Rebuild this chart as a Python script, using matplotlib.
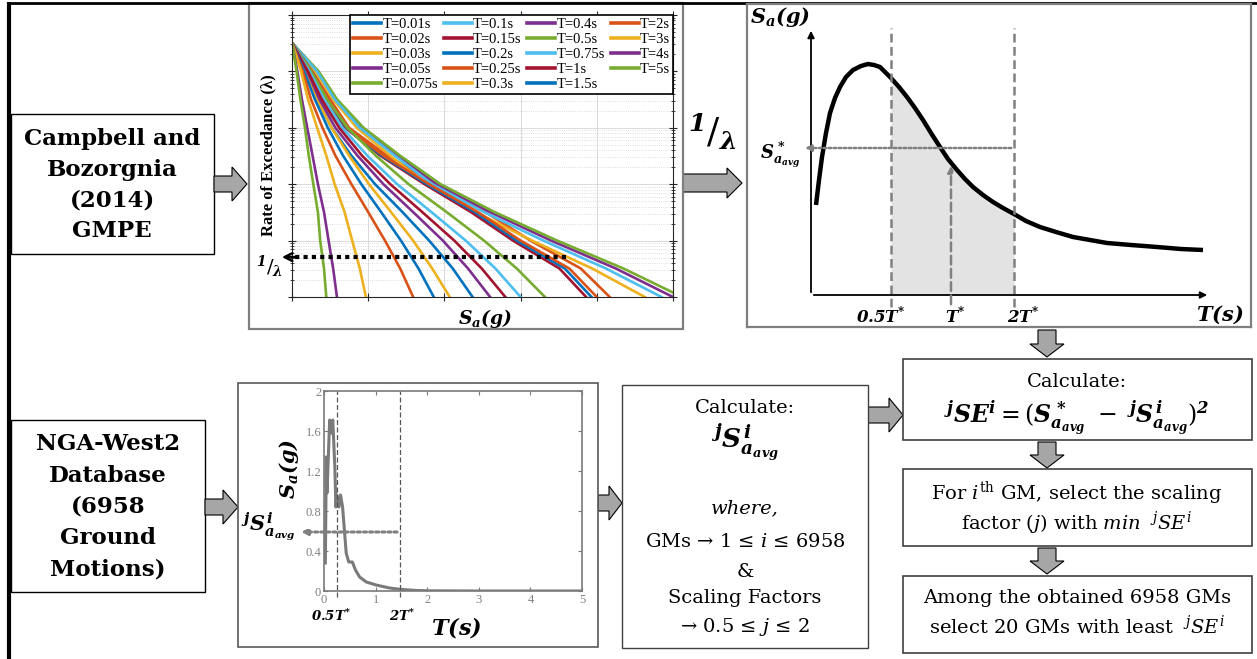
import numpy as np
import matplotlib
matplotlib.use("Agg")
import matplotlib.pyplot as plt
from matplotlib.patches import Rectangle, Polygon

W, H = 1257, 659

plt.rcParams['mathtext.fontset'] = 'custom'
plt.rcParams['mathtext.rm'] = 'DejaVu Serif'
plt.rcParams['mathtext.it'] = 'DejaVu Serif:italic'
plt.rcParams['mathtext.bf'] = 'DejaVu Serif:italic:bold'

# ---- hazard curves (Campbell & Bozorgnia 2014), Sa read at fixed exceedance rates ----
RATE = [3.2e-1, 1e-1, 3.2e-2, 1e-2, 3.2e-3, 1e-3, 3.2e-4, 1e-4, 3.2e-5, 1e-5]
PERIOD_LABELS = ['T=0.01s', 'T=0.02s', 'T=0.03s', 'T=0.05s', 'T=0.075s',
                 'T=0.1s', 'T=0.15s', 'T=0.2s', 'T=0.25s', 'T=0.3s',
                 'T=0.4s', 'T=0.5s', 'T=0.75s', 'T=1s', 'T=1.5s',
                 'T=2s', 'T=3s', 'T=4s', 'T=5s']
MATLAB_COLORS = ['#0072BD', '#D95319', '#EDB120', '#7E2F8E', '#77AC30', '#4DBEEE', '#A2142F']
SA_CURVES = [
    [0, .18, .33, .52, .78, 1.09, 1.45, 1.80, 2.11, 2.37],   # 0.01
    [0, .27, .50, .75, 1.25, 1.88, 2.54, 3.13, 3.79, 4.17],  # 0.02
    [0, .31, .54, .85, 1.29, 1.76, 2.41, 3.15, 3.94, 4.63],  # 0.03
    [0, .34, .58, .92, 1.39, 1.90, 2.60, 3.40, 4.25, 5.00],  # 0.05
    [0, .35, .59, .94, 1.42, 1.95, 2.66, 3.48, 4.35, 5.12],  # 0.075
    [0, .33, .56, .89, 1.35, 1.84, 2.52, 3.30, 4.12, 4.85],  # 0.1
    [0, .25, .46, .70, 1.16, 1.74, 2.35, 2.90, 3.51, 3.86],  # 0.15
    [0, .26, .47, .71, 1.18, 1.77, 2.40, 2.95, 3.58, 3.93],  # 0.2
    [0, .26, .48, .72, 1.20, 1.80, 2.44, 3.00, 3.64, 4.00],  # 0.25
    [0, .18, .33, .52, .75, 1.01, 1.30, 1.59, 1.84, 2.07],   # 0.3
    [0, .20, .36, .57, .86, 1.20, 1.59, 1.98, 2.31, 2.60],   # 0.4
    [0, .25, .46, .73, 1.10, 1.53, 2.03, 2.52, 2.95, 3.32],  # 0.5
    [0, .23, .42, .66, .99, 1.38, 1.83, 2.28, 2.67, 3.00],   # 0.75
    [0, .21, .39, .62, .92, 1.29, 1.71, 2.13, 2.49, 2.80],   # 1
    [0, .16, .30, .47, .67, .91, 1.17, 1.43, 1.66, 1.86],    # 1.5
    [0, .14, .25, .40, .57, .78, 1.00, 1.22, 1.42, 1.59],    # 2
    [0, .12, .21, .33, .45, .56, .69, .79, .89, .97],        # 3
    [0, .07, .13, .20, .27, .34, .42, .48, .54, .59],        # 4
    [0, .06, .11, .17, .22, .28, .34, .37, .42, .45],        # 5
]
TARGET_RATE = 5.1e-5
TARGET_SA_END = 3.6

# ---- schematic target spectrum ----
SCH_T = [0.05, 0.08, 0.11, 0.15, 0.19, 0.24, 0.29, 0.35, 0.42, 0.50, 0.57, 0.63, 0.69,
         0.80, 0.88, 0.96, 1.04, 1.12, 1.20, 1.29, 1.37, 1.46, 1.54, 1.62, 1.72, 1.82,
         1.92, 2.03, 2.15, 2.29, 2.45, 2.62, 2.79, 2.96, 3.20, 3.46, 3.70, 3.92]
SCH_SA = [0.90, 1.15, 1.38, 1.62, 1.82, 1.97, 2.08, 2.18, 2.25, 2.29, 2.31, 2.30, 2.28,
          2.17, 2.08, 1.98, 1.87, 1.75, 1.62, 1.48, 1.36, 1.25, 1.16, 1.08, 1.00, 0.93,
          0.87, 0.81, 0.74, 0.68, 0.63, 0.58, 0.55, 0.52, 0.50, 0.48, 0.46, 0.45]
T_LO, T_STAR, T_HI = 0.80, 1.40, 2.03
SA_AVG_STAR = 1.47
SA_AT_TSTAR = 1.32

# ---- one NGA-West2 record spectrum ----
GM_T = [0.026, 0.045, 0.058, 0.11, 0.14, 0.17, 0.21, 0.23, 0.25, 0.29, 0.32, 0.36,
        0.40, 0.43, 0.48, 0.55, 0.61, 0.69, 0.82, 1.01, 1.27, 1.47, 1.79, 2.05, 3.0, 4.0, 4.95]
GM_SA = [0.28, 1.34, 0.98, 1.71, 1.58, 1.71, 1.24, 0.84, 0.96, 0.84, 0.96, 0.84,
         0.58, 0.38, 0.29, 0.29, 0.21, 0.14, 0.09, 0.06, 0.03, 0.017, 0.005, 0.002, 0.0, 0.0, 0.0]
GM_T_LO, GM_T_HI = 0.25, 1.47
GM_SA_AVG = 0.59
GM_XTICKS = [0, 1, 2, 3, 4, 5]
GM_YTICKS = [0, 0.4, 0.8, 1.2, 1.6, 2]

ARROW_FC = '#a6a6a6'


def rect_px(x0, y0, x1, y1):
    return [x0 / W, 1 - y1 / H, (x1 - x0) / W, (y1 - y0) / H]


def right_arrow(ax, x0, x1, yc, head=15, shaft=8, headh=17):
    pts = [(x0, yc - shaft), (x1 - head, yc - shaft), (x1 - head, yc - headh), (x1, yc),
           (x1 - head, yc + headh), (x1 - head, yc + shaft), (x0, yc + shaft)]
    ax.add_patch(Polygon(pts, closed=True, fc=ARROW_FC, ec='black', lw=0.8))


def down_arrow(ax, xc, y0, y1, head=13, shaft=9, headh=17):
    pts = [(xc - shaft, y0), (xc - shaft, y1 - head), (xc - headh, y1 - head), (xc, y1),
           (xc + headh, y1 - head), (xc + shaft, y1 - head), (xc + shaft, y0)]
    ax.add_patch(Polygon(pts, closed=True, fc=ARROW_FC, ec='black', lw=0.8))


def box(ax, x0, y0, x1, y1, ec='black', lw=1.0):
    ax.add_patch(Rectangle((x0, y0), x1 - x0, y1 - y0, fc='white', ec=ec, lw=lw))


fig = plt.figure(figsize=(W / 100, H / 100), dpi=100)
bg = fig.add_axes([0, 0, 1, 1])
bg.set_xlim(0, W)
bg.set_ylim(H, 0)
bg.axis('off')

# outer frame (top and left only)
bg.plot([8, W], [3, 3], color='black', lw=2, solid_capstyle='butt')
bg.plot([9, 9], [2, H], color='black', lw=3, solid_capstyle='butt')

# input boxes
bold_serif = dict(family='DejaVu Serif', weight='bold', ha='center', va='center')
box(bg, 11, 114, 214, 254)
bg.text(112, 185, 'Campbell and\nBozorgnia\n(2014)\nGMPE', fontsize=16.5, linespacing=1.5, **bold_serif)
box(bg, 11, 420, 205, 592)
bg.text(108, 507, 'NGA-West2\nDatabase\n(6958\nGround\nMotions)', fontsize=16.5, linespacing=1.55, **bold_serif)

right_arrow(bg, 214, 247, 184)
right_arrow(bg, 205, 238, 507)
right_arrow(bg, 683, 742, 183, head=15, shaft=9, headh=15)
right_arrow(bg, 598, 622, 503, head=13)
right_arrow(bg, 868, 903, 415, head=14)
down_arrow(bg, 1047, 330, 357)
down_arrow(bg, 1047, 442, 468)
down_arrow(bg, 1047, 548, 574)

# top-left panel frame and labels
bg.add_patch(Rectangle((249, 3), 434, 326, fc='white', ec='#7f7f7f', lw=1.6))
bg.text(268, 155, 'Rate of Exceedance (λ)', rotation=90, family='Liberation Serif',
        weight='bold', fontsize=12, ha='center', va='center')
bg.text(485, 318, r'$\mathbf{S_a(g)}$', fontsize=13.5, ha='center', va='center')
bg.text(270, 267, r'${}^{\mathbf{1}}/_{\mathbf{\lambda}}$', fontsize=14, ha='center', va='center')
bg.text(712, 132, r'${}^{\mathbf{1}}/_{\mathbf{\lambda}}$', fontsize=26, ha='center', va='center')

# bottom-left panel frame and labels
bg.add_patch(Rectangle((238, 383), 360, 264, fc='white', ec='#595959', lw=1.2))
bg.text(289, 469, r'$\mathbf{S_{a}(g)}$', rotation=90, fontsize=15, ha='center', va='center')
bg.text(268, 527, r'$\mathbf{{}^{j}S_{a_{avg}}^{\,i}}$', fontsize=15, ha='center', va='center')
bg.text(456, 628, r'$\mathbf{T(s)}$', fontsize=16, ha='center', va='center')

# middle box
box(bg, 622, 385, 868, 648, ec='#404040')
reg = dict(family='DejaVu Serif', ha='center', va='center', fontsize=14)
bg.text(745, 408, 'Calculate:', **reg)
bg.text(745, 443, r'$\mathbf{{}^{j}S_{a_{avg}}^{\,i}}$', fontsize=19, ha='center', va='center')
bg.text(745, 508, 'where,', style='italic', **reg)
bg.text(745, 542, r'GMs → 1 ≤ $i$ ≤ 6958', **reg)
bg.text(745, 572, '&', **reg)
bg.text(745, 598, 'Scaling Factors', **reg)
bg.text(745, 627, r'→ 0.5 ≤ $j$ ≤ 2', **reg)

# right column boxes
box(bg, 903, 359, 1252, 440, ec='#404040', lw=1.2)
bg.text(1077, 382, 'Calculate:', **reg)
bg.text(1077, 418, r'$\mathbf{{}^{j}SE^{i}} = (\mathbf{S_{a_{avg}}^{\,*}}\ -\ \mathbf{{}^{j}S_{a_{avg}}^{\,i}})^{\mathbf{2}}$',
        fontsize=17, ha='center', va='center')
box(bg, 903, 469, 1252, 546, ec='#404040', lw=1.2)
bg.text(1077, 493, r'For $i^{\mathrm{th}}$ GM, select the scaling', **reg)
bg.text(1077, 523, r'factor ($j$) with $min$  ${}^{j}SE^{i}$', **reg)
box(bg, 903, 576, 1252, 653, ec='#404040', lw=1.2)
bg.text(1077, 598, 'Among the obtained 6958 GMs', **reg)
bg.text(1077, 626, r'select 20 GMs with least  ${}^{j}SE^{i}$', **reg)

# ---- hazard curve axes ----
ax1 = fig.add_axes(rect_px(292, 15, 673, 297))
for lab, sa, k in zip(PERIOD_LABELS, SA_CURVES, range(len(SA_CURVES))):
    ax1.plot(sa, RATE, color=MATLAB_COLORS[k % 7], lw=1.9, label=lab)
ax1.set_yscale('log')
ax1.set_xlim(0, 5)
ax1.set_ylim(1e-5, 1)
ax1.set_xticks([0, 1, 2, 3, 4, 5])
ax1.grid(True, which='major', color='#d4d4d4', lw=0.6)
ax1.grid(True, which='minor', axis='y', color='#d4d4d4', ls=':', lw=0.6)
ax1.tick_params(which='both', direction='inout', top=True, right=True,
                labelleft=False, labelbottom=False, color='#262626')
ax1.tick_params(which='major', length=6)
ax1.tick_params(which='minor', length=3)
for s in ax1.spines.values():
    s.set_color('#262626')
ax1.plot([TARGET_SA_END, 0.03], [TARGET_RATE, TARGET_RATE], color='black', lw=3,
         ls=(0, (1, 1)), clip_on=False)
ax1.annotate('', xy=(-0.17, TARGET_RATE), xytext=(0.1, TARGET_RATE), annotation_clip=False,
             arrowprops=dict(arrowstyle='->', color='black', lw=1.8, mutation_scale=14))
leg = ax1.legend(ncol=4, loc='upper right', borderaxespad=0, fancybox=False, edgecolor='black',
                 framealpha=1, prop={'family': 'Liberation Serif', 'size': 10.5},
                 handlelength=1.9, handletextpad=0.1, columnspacing=0.4,
                 labelspacing=0.12, borderpad=0.2)
leg.get_frame().set_linewidth(1.2)
for h in leg.get_lines():
    h.set_linewidth(2.6)

# ---- schematic target spectrum axes ----
ax2 = fig.add_axes(rect_px(747, 4, 1251, 327))
ax2.set_xlim(-0.64, 4.40)
ax2.set_ylim(-0.32, 2.91)
ax2.set_xticks([])
ax2.set_yticks([])
for s in ax2.spines.values():
    s.set_color('#7f7f7f')
    s.set_linewidth(1.6)
sch_t = np.array(SCH_T)
sch_sa = np.array(SCH_SA)
band = (sch_t >= T_LO) & (sch_t <= T_HI)
ax2.fill_between(sch_t[band], 0, sch_sa[band], color='#e3e3e3', lw=0)
ax2.plot(SCH_T, SCH_SA, color='black', lw=3.2, solid_capstyle='butt')
ax2.annotate('', xy=(3.99, 0), xytext=(0, 0),
             arrowprops=dict(arrowstyle='-|>', color='black', lw=1.3, mutation_scale=10))
ax2.annotate('', xy=(0, 2.67), xytext=(0, 0),
             arrowprops=dict(arrowstyle='-|>', color='black', lw=1.3, mutation_scale=10))
for tx in (T_LO, T_HI):
    ax2.plot([tx, tx], [-0.12, 2.67], color='#808080', lw=1.8, ls=(0, (3.5, 1.8)))
ax2.annotate('', xy=(T_STAR, SA_AT_TSTAR), xytext=(T_STAR, -0.12),
             arrowprops=dict(arrowstyle='-|>', color='#808080', lw=1.8, ls=(0, (3.5, 1.8)),
                             mutation_scale=9))
ax2.annotate('', xy=(-0.09, SA_AVG_STAR), xytext=(T_HI, SA_AVG_STAR),
             arrowprops=dict(arrowstyle='-|>', color='#808080', lw=1.8, ls=(0, (1, 1)),
                             mutation_scale=9))
ax2.text(-0.31, 2.78, r'$\mathbf{S_a(g)}$', fontsize=15, ha='center', va='center')
ax2.text(-0.31, 1.40, r'$\mathbf{S_{a_{avg}}^{\,*}}$', fontsize=13, ha='center', va='center')
ax2.text(0.70, -0.20, r'$\mathbf{0.5T^{*}}$', fontsize=12, ha='center', va='center')
ax2.text(T_STAR + 0.04, -0.20, r'$\mathbf{T^{*}}$', fontsize=12, ha='center', va='center')
ax2.text(T_HI + 0.09, -0.20, r'$\mathbf{2T^{*}}$', fontsize=12, ha='center', va='center')
ax2.text(4.09, -0.20, r'$\mathbf{T(s)}$', fontsize=15, ha='center', va='center')

# ---- ground-motion spectrum axes ----
ax3 = fig.add_axes(rect_px(324, 391, 582, 591))
ax3.plot(GM_T, GM_SA, color='#7a7a7a', lw=2.2)
ax3.set_xlim(0, 5)
ax3.set_ylim(0, 2)
ax3.set_xticks(GM_XTICKS)
ax3.set_yticks(GM_YTICKS)
ax3.set_yticklabels(['0', '0.4', '0.8', '1.2', '1.6', '2'])
ax3.tick_params(direction='in', top=True, right=True, length=3, color='#7a7a7a',
                labelcolor='#808080', labelsize=9, pad=2)
for lbl in ax3.get_xticklabels() + ax3.get_yticklabels():
    lbl.set_family('Liberation Serif')
for s in ax3.spines.values():
    s.set_color('#7a7a7a')
    s.set_linewidth(1.2)
for tx in (GM_T_LO, GM_T_HI):
    ax3.plot([tx, tx], [-0.06, 2], color='#555555', lw=0.9, ls=(0, (4, 2)), clip_on=False)
ax3.annotate('', xy=(-0.5, GM_SA_AVG), xytext=(GM_T_HI, GM_SA_AVG), annotation_clip=False,
             arrowprops=dict(arrowstyle='-|>', color='#808080', lw=2.2, ls=(0, (1, 1)),
                             mutation_scale=9))
ax3.text(0.14, -0.25, r'$\mathbf{0.5T^{*}}$', fontsize=9.5, ha='center', va='center')
ax3.text(1.52, -0.25, r'$\mathbf{2T^{*}}$', fontsize=9.5, ha='center', va='center')

fig.savefig('out.png', dpi=100)
